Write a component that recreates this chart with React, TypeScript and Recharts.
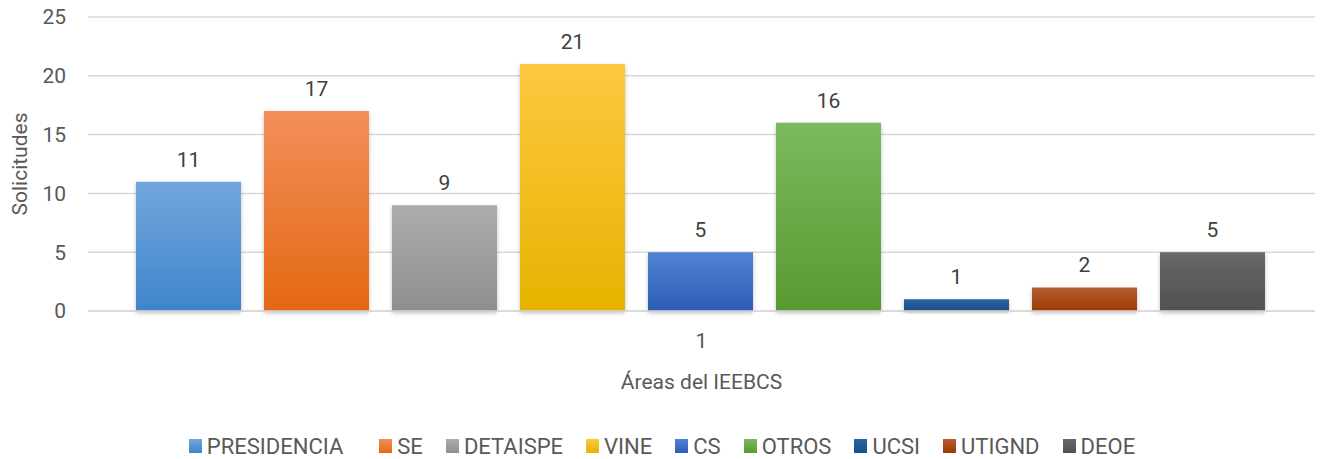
import { BarChart, Bar, XAxis, YAxis, CartesianGrid, Legend, LabelList, Label } from "recharts";

const categories = ["1"];
const areas = ["PRESIDENCIA", "SE", "DETAISPE", "VINE", "CS", "OTROS", "UCSI", "UTIGND", "DEOE"];
const solicitudes = [11, 17, 9, 21, 5, 16, 1, 2, 5];
const yTicks = [0, 5, 10, 15, 20, 25];

// gradient top / bottom per area
const topColors = ["#72a7dd", "#f38f5a", "#adadad", "#ffc740", "#5282d2", "#7cb95e", "#2a64a2", "#b55d33", "#686868"];
const bottomColors = ["#3f84cb", "#e36812", "#8e8e8e", "#e6b300", "#2d5db6", "#589a30", "#1a4e89", "#9c3a00", "#515151"];

const data = categories.map((c) => {
  const row: any = { name: c };
  areas.forEach((a, i) => (row[a] = solicitudes[i]));
  return row;
});

const font = "Roboto, 'Open Sans', sans-serif";
const textColor = "#595959";

const renderLegend = () => (
  <div
    style={{
      display: "flex",
      justifyContent: "center",
      alignItems: "center",
      width: "100%",
      height: 26,
      paddingLeft: 9,
      boxSizing: "border-box",
      fontFamily: font,
      fontSize: 22,
      color: textColor,
    }}
  >
    {areas.map((a, i) => (
      <div
        key={a}
        style={{
          display: "flex",
          alignItems: "center",
          marginRight: i === areas.length - 1 ? 0 : i === 0 ? 36 : 23,
        }}
      >
        <span
          style={{
            display: "inline-block",
            width: 13,
            height: 14,
            marginRight: 5,
            background: `linear-gradient(${topColors[i]}, ${bottomColors[i]})`,
          }}
        />
        <span>{a}</span>
      </div>
    ))}
  </div>
);

export default function App() {
  return (
    <div style={{ position: "absolute", left: 0, top: 0, width: 1324, height: 459, background: "#fff" }}>
      <BarChart
        width={1324}
        height={459}
        data={data}
        margin={{ top: 17, right: 9, left: 0, bottom: 0 }}
        barCategoryGap={48}
        barGap={23}
      >
        <defs>
          {areas.map((a, i) => (
            <linearGradient key={a} id={`grad${i}`} x1="0" y1="0" x2="0" y2="1">
              <stop offset="0%" stopColor={topColors[i]} />
              <stop offset="100%" stopColor={bottomColors[i]} />
            </linearGradient>
          ))}
          <filter id="shadow" x="-10%" y="-10%" width="120%" height="130%">
            <feDropShadow dx="0" dy="2" stdDeviation="2" floodColor="#000" floodOpacity="0.25" />
          </filter>
        </defs>
        <CartesianGrid vertical={false} stroke="#d9d9d9" strokeWidth={1.5} />
        <XAxis
          dataKey="name"
          height={122}
          tickLine={false}
          tickSize={0}
          tickMargin={22}
          axisLine={{ stroke: "#d9d9d9", strokeWidth: 1.5 }}
          tick={{ fill: textColor, fontSize: 21, fontFamily: font }}
        >
          <Label
            value="Áreas del IEEBCS"
            position="insideBottom"
            offset={44}
            style={{ fill: textColor, fontSize: 21, fontFamily: font }}
          />
        </XAxis>
        <YAxis
          width={88}
          domain={[0, 25]}
          ticks={yTicks}
          interval={0}
          axisLine={false}
          tickLine={false}
          tickSize={0}
          tickMargin={22}
          tick={{ fill: textColor, fontSize: 21, fontFamily: font }}
        >
          <Label
            content={({ viewBox }: any) => {
              const cy = viewBox.y + viewBox.height / 2;
              return (
                <text
                  x={20}
                  y={cy}
                  transform={`rotate(-90, 20, ${cy})`}
                  textAnchor="middle"
                  dominantBaseline="central"
                  fill={textColor}
                  fontSize={21}
                  fontFamily={font}
                >
                  Solicitudes
                </text>
              );
            }}
          />
        </YAxis>
        <Legend verticalAlign="bottom" align="center" content={renderLegend} />
        {areas.map((a, i) => (
          <Bar key={a} dataKey={a} fill={`url(#grad${i})`} filter="url(#shadow)" isAnimationActive={false}>
            <LabelList
              dataKey={a}
              position="top"
              offset={15}
              style={{ fill: "#404040", fontSize: 21, fontFamily: font }}
            />
          </Bar>
        ))}
      </BarChart>
    </div>
  );
}
